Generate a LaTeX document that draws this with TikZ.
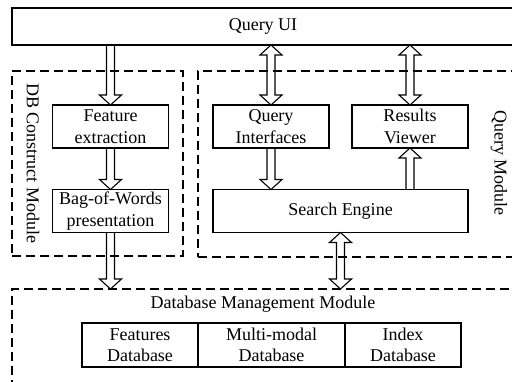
\documentclass[tikz,border=0pt]{standalone}
\usepackage{fontspec}
\setmainfont{Liberation Serif}
\usetikzlibrary{positioning, calc}

% hollow block arrows, head at the second point
\newcommand{\blockarrow}[2]{%
  \coordinate (h1) at ($(#2)!10pt!(#1)$);
  \draw ($(#1)!4pt!90:(#2)$) -- ($(h1)!4pt!90:(#2)$) -- ($(h1)!11pt!90:(#2)$) -- (#2)
    -- ($(h1)!11pt!-90:(#2)$) -- ($(h1)!4pt!-90:(#2)$) -- ($(#1)!4pt!-90:(#2)$);
}
\newcommand{\twowayarrow}[2]{%
  \coordinate (h1) at ($(#2)!10pt!(#1)$);
  \coordinate (h2) at ($(#1)!10pt!(#2)$);
  \draw (#1) -- ($(h2)!11pt!90:(#2)$) -- ($(h2)!4pt!90:(#2)$) -- ($(h1)!4pt!90:(#2)$)
    -- ($(h1)!11pt!90:(#2)$) -- (#2) -- ($(h1)!11pt!-90:(#2)$) -- ($(h1)!4pt!-90:(#2)$)
    -- ($(h2)!4pt!-90:(#2)$) -- ($(h2)!11pt!-90:(#2)$) -- cycle;
}

\begin{document}
\begin{tikzpicture}[x=1pt, y=-1pt, line width=1.1pt, line join=miter,
    box/.style={draw, align=center, inner sep=0pt, outer sep=0pt, minimum height=43pt, minimum width=116pt, font=\fontsize{18}{21.5}\selectfont},
    module/.style={draw, dash pattern=on 9pt off 5pt, inner sep=0pt, outer sep=0pt},
    lbl/.style={font=\fontsize{18}{21.5}\selectfont}]
    \useasboundingbox (0,0) rectangle (512,381);

    % top bar
    \node[box, minimum width=502pt, minimum height=37pt] (qui) at (263,26.5) {Query UI};

    % module frames
    \node[module, minimum width=171pt, minimum height=185pt] (dbc) at (97.5,163.5) {};
    \node[module, minimum width=327pt, minimum height=186pt] (qm) at (361.5,164) {};
    \node[module, minimum width=508pt, minimum height=111pt] (dbm) at (266,344.5) {};
    \node[lbl, rotate=-90] (dbclabel) at (33,163) {DB Construct Module};
    \node[lbl, rotate=-90] (qmlabel) at (499,163) {Query Module};
    \node[lbl] (dbmlabel) at (263,304) {Database Management Module};

    % DB construct module
    \node[box] (fe) at (110.5,126.5) {Feature\\extraction};
    \node[box, below of=fe, node distance=84.5pt] (bow) {Bag-of-Words\\presentation};

    % query module
    \node[box] (qi) at (271,126.5) {Query\\Interfaces};
    \node[box, right of=qi, node distance=139pt] (rv) {Results\\Viewer};
    \node[box, minimum width=255pt] (se) at (340.5,211) {Search Engine};

    % databases
    \node[box, minimum height=44pt] (fdb) at (140,345) {Features\\Database};
    \node[box, minimum width=147pt, minimum height=44pt, right=0pt of fdb] (mdb) {Multi-modal\\Database};
    \node[box, minimum height=44pt, right=0pt of mdb] (idb) {Index\\Database};

    % arrows
    \coordinate (a1) at (fe.north |- qui.south);
    \coordinate (a2) at (bow.south |- dbm.north);
    \coordinate (a3) at (qi.north |- qui.south);
    \coordinate (a4) at (rv.north |- qui.south);
    \coordinate (a5) at (qi.south |- se.north);
    \coordinate (a6) at (rv.south |- se.north);
    \coordinate (a7) at (se.south |- dbm.north);
    \blockarrow{a1}{fe.north}
    \blockarrow{fe.south}{bow.north}
    \blockarrow{bow.south}{a2}
    \twowayarrow{a3}{qi.north}
    \twowayarrow{a4}{rv.north}
    \blockarrow{qi.south}{a5}
    \blockarrow{a6}{rv.south}
    \twowayarrow{se.south}{a7}
\end{tikzpicture}
\end{document}
